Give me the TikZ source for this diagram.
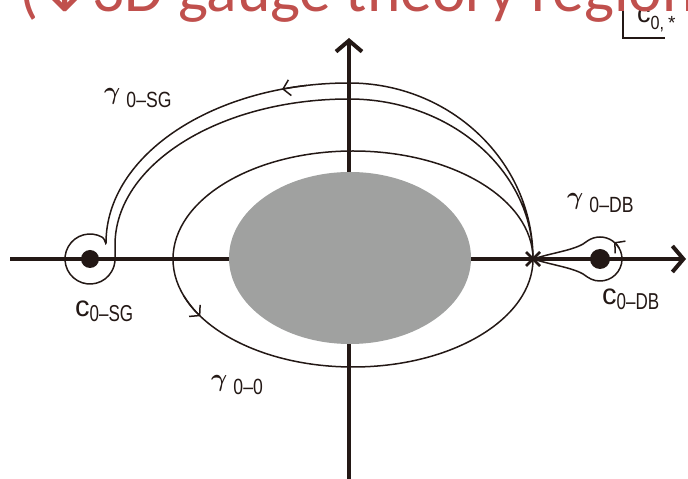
\documentclass[tikz,border=0pt]{standalone}
\usepackage{fontspec}
\usepackage{graphicx}
\setsansfont{Liberation Sans}
\newfontfamily\headfont{Carlito}
\newfontfamily\symfont{DejaVu Sans}
\usetikzlibrary{positioning, calc, arrows.meta}

\definecolor{ink}{HTML}{231815}
\definecolor{holegray}{HTML}{A0A1A0}
\definecolor{headred}{HTML}{C0504D}

\newcommand{\gsub}[1]{\raisebox{8pt}{\fontsize{32}{32}\selectfont\boldmath$\gamma$}\hspace{6pt}{\fontsize{22}{22}\selectfont\sffamily\scalebox{0.8}[1]{#1}}}
\newcommand{\csub}[1]{{\fontsize{29}{29}\selectfont\sffamily c}\raisebox{-5pt}{\fontsize{23}{23}\selectfont\sffamily\scalebox{0.74}[1]{#1}}}

\tikzset{
  axis/.style={draw=ink, line width=4pt, -{Straight Barb[length=11pt,width=26pt]}},
  contour/.style={draw=ink, line width=1.5pt},
  dirtip/.style={-{Straight Barb[length=7pt,width=16pt]}},
  lbl/.style={text=ink, inner sep=0pt, anchor=base west},
}

\begin{document}
\begin{tikzpicture}[x=1pt,y=1pt]
\useasboundingbox (0,0) rectangle (688,479);
\coordinate (O) at (349,220);
\coordinate (X) at (533,220);
\coordinate (cSG) at (90,220);
\coordinate (cDB) at (600,220);
\coordinate (c00) at (353,220);
% axes and the grey region
\draw[axis] (10,220) -- (686,220);
\draw[axis] (349,0) -- (349,441);
\fill[holegray] (350,221) ellipse[x radius=121, y radius=86];
% gamma 0-0
\draw[contour] (c00) ellipse[x radius=180, y radius=108];
\draw[contour, dirtip] (c00) ++(200:180 and 108) arc[start angle=200, end angle=212, x radius=180, y radius=108];
% gamma 0-SG
\draw[contour] (X) arc[start angle=0, end angle=90, x radius=184, y radius=176]
  arc[start angle=90, end angle=180, x radius=243, y radius=160]
  to[out=-90, in=-30] ($(cSG)+(60:25)$)
  arc[start angle=60, end angle=360, radius=25] -- ++(0,14)
  arc[start angle=180, end angle=90, x radius=234, y radius=146]
  arc[start angle=90, end angle=0, x radius=184, y radius=160];
\draw[contour, dirtip] (349,236) ++(100:243 and 160) arc[start angle=100, end angle=106, x radius=243, y radius=160];
% gamma 0-DB
\draw[contour] (X) .. controls (555,213) and (577,211) .. ($(cDB)+(235:22)$)
  arc[start angle=235, end angle=485, radius=22]
  .. controls (577,229) and (555,227) .. (X);
\draw[contour, dirtip] (cDB) ++(30:22) arc[start angle=30, end angle=50, radius=22];
% cross and points
\draw[ink, line width=2.5pt] (X) ++(-7,-7) -- ++(14,14) (X) ++(-7,7) -- ++(14,-14);
\fill[ink] (cSG) circle[radius=9];
\fill[ink] (cDB) circle[radius=10];
% labels
\node[lbl] (gSG) at (104,371) {\gsub{0–SG}};
\node[lbl] (gDB) at (567,266) {\gsub{0–DB}};
\node[lbl] (g00) at (211,84) {\gsub{0–0}};
\node[lbl] (lSG) at (75,162) {\csub{0–SG}};
\node[lbl] (lDB) at (602,174) {\csub{0–DB}};
\draw[ink, line width=2.5pt] (623,472) -- (623,441) -- (665,441);
\node[lbl] (cstar) at (637,456) {{\fontsize{27}{27}\selectfont\sffamily c}\raisebox{-7pt}{\fontsize{19}{19}\selectfont\sffamily\scalebox{0.85}[1]{0,}\hspace{4pt}*}};
\node[inner sep=0pt, anchor=base west, text=headred] (head) at (19,467) {\headfont\fontsize{63.5}{63.5}\selectfont(\makebox[54pt][c]{\symfont↓}3D gauge theory region};
\end{tikzpicture}
\end{document}
